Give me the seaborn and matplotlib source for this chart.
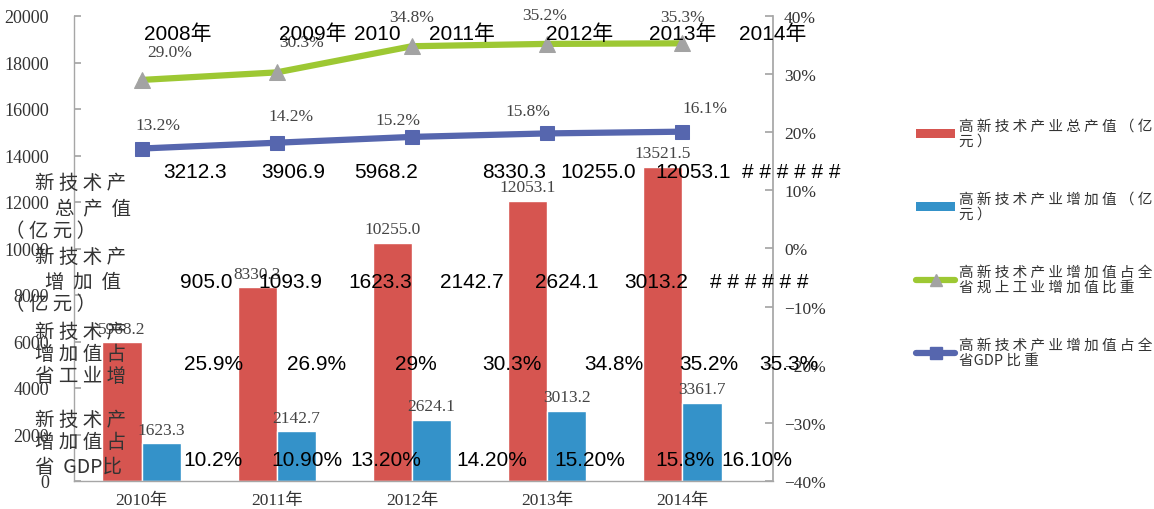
import numpy as np
import pandas as pd
import matplotlib
matplotlib.use("Agg")
import matplotlib.pyplot as plt
import seaborn as sns
from matplotlib.patches import Patch
from matplotlib.lines import Line2D

# ---------------- data ----------------
years = ["2010年", "2011年", "2012年", "2013年", "2014年"]
total_output = [5968.2, 8330.3, 10255.0, 12053.1, 13521.5]      # 高新技术产业总产值（亿元）
added_value = [1623.3, 2142.7, 2624.1, 3013.2, 3361.7]          # 高新技术产业增加值（亿元）
share_industry = [29.0, 30.3, 34.8, 35.2, 35.3]                 # 占全省规上工业增加值比重 (%)
share_gdp = [13.2, 14.2, 15.2, 15.8, 16.1]                      # 占全省GDP比重 (%)

series_names = ["高新技术产业总产值（亿元）", "高新技术产业增加值（亿元）",
                "高新技术产业增加值占全省规上工业增加值比重", "高新技术产业增加值占全省GDP比重"]
legend_labels = ["高 新 技 术 产 业 总 产 值 （ 亿\n元 ）",
                 "高 新 技 术 产 业 增 加 值 （ 亿\n元 ）",
                 "高 新 技 术 产 业 增 加 值 占 全\n省 规 上 工 业 增 加 值 比 重",
                 "高 新 技 术 产 业 增 加 值 占 全\n省GDP 比 重"]

left_ticks = [0, 2000, 4000, 6000, 8000, 10000, 12000, 14000, 16000, 18000, 20000]
right_ticks = [-40, -30, -20, -10, 0, 10, 20, 30, 40]

# stray data-table text overlaid on the picture
table_years = ["2008年", "2009年", "2010", "2011年", "2012年", "2013年", "2014年"]
table_total = ["3212.3", "3906.9", "5968.2", "8330.3", "10255.0", "12053.1", "# # # # # #"]
table_added = ["905.0", "1093.9", "1623.3", "2142.7", "2624.1", "3013.2", "# # # # # #"]
table_share_ind = ["25.9%", "26.9%", "29%", "30.3%", "34.8%", "35.2%", "35.3%"]
table_share_gdp = ["10.2%", "10.90%", "13.20%", "14.20%", "15.20%", "15.8%", "16.10%"]
table_headers = [["新 技 术 产", "总  产  值", "（ 亿 元 ）"],
                 ["新 技 术 产", "增  加  值", "（ 亿 元 ）"],
                 ["新 技 术 产", "增 加 值 占", "省 工 业 增"],
                 ["新 技 术 产", "增 加 值 占", "省  GDP比"]]

# ---------------- layout / style ----------------
W, H = 1154, 510
RED = "#D65550"
BLUE = "#3492C9"
GREEN = "#9DC833"
TRI = "#A3A3A3"
NAVY = "#5666AE"
GRID = "#A6A6A6"
SERIF = ["Liberation Serif", "Noto Sans CJK SC"]
SANS = ["Liberation Sans", "Noto Sans CJK SC"]
CJK = ["Noto Sans CJK SC", "DejaVu Sans"]

sns.set_theme(style="white")
plt.rcParams["font.family"] = SERIF

fig = plt.figure(figsize=(W / 100, H / 100), dpi=100)
ax = fig.add_axes([74 / W, 1 - 482 / H, (773 - 74) / W, (482 - 17) / H])

df = pd.DataFrame({
    "year": years * 2,
    "value": total_output + added_value,
    "series": [series_names[0]] * 5 + [series_names[1]] * 5,
})
sns.barplot(data=df, x="year", y="value", hue="series", palette=[RED, BLUE],
            width=0.58, saturation=1, ax=ax, legend=False)

ax.set_ylim(0, 20000)
ax.set_xlim(-0.5, 4.67)
ax.set_yticks(left_ticks)
ax.set_yticklabels([str(t) for t in left_ticks], fontsize=13, color="#333333")
ax.set_xlabel("")
ax.set_ylabel("")
ax.tick_params(axis="y", direction="in", length=5, color=GRID, pad=18)
ax.tick_params(axis="x", length=0, labelsize=12.5, labelcolor="#333333", pad=8)
ax.set_xticks(np.arange(len(years)) + 0.5, minor=True)
ax.tick_params(axis="x", which="minor", direction="in", length=6, color=GRID)
for s in ["top", "right"]:
    ax.spines[s].set_visible(False)
for s in ["left", "bottom"]:
    ax.spines[s].set_color(GRID)
    ax.spines[s].set_linewidth(1)

# bar value labels
for cont in ax.containers:
    ax.bar_label(cont, fmt="%.1f", padding=4, fontsize=12.5, color="#444444")

# right axis (percentage)
ax2 = ax.twinx()
ax2.set_ylim(-40, 40)
ax2.set_yticks(right_ticks)
ax2.set_yticklabels([f"{t}%" if t >= 0 else f"\u2212{-t}%" for t in right_ticks],
                    fontsize=12.5, color="#333333")
ax2.tick_params(axis="y", direction="in", length=6, color=GRID, pad=8)
for s in ["top", "left", "bottom"]:
    ax2.spines[s].set_visible(False)
ax2.spines["right"].set_color(GRID)

xs = np.arange(len(years))
sns.lineplot(x=xs, y=share_industry, ax=ax2, color=GREEN, linewidth=4.5,
             marker="^", markersize=11, markerfacecolor=TRI, markeredgecolor=TRI)

# the GDP-share line sits on its own (hidden) scale, shifted as in the source image
ax3 = ax.twinx()
ax3.set_ylim(-44, 36)
ax3.axis("off")
sns.lineplot(x=xs, y=share_gdp, ax=ax3, color=NAVY, linewidth=4.5,
             marker="s", markersize=10, markerfacecolor=NAVY, markeredgecolor=NAVY)

ind_offsets = [(20, 20), (18, 22), (0, 21), (-2, 21), (0, 19)]
gdp_offsets = [(12, 17), (10, 19), (-10, 12), (-14, 16), (16, 17)]
for i, v in enumerate(share_industry):
    ax2.annotate(f"{v:.1f}%", (xs[i], v), xytext=ind_offsets[i], textcoords="offset points",
                 ha="center", va="center", fontsize=12.5, color="#444444")
for i, v in enumerate(share_gdp):
    ax3.annotate(f"{v:.1f}%", (xs[i], v), xytext=gdp_offsets[i], textcoords="offset points",
                 ha="center", va="center", fontsize=12.5, color="#444444")

# legend
handles = [Patch(facecolor=RED, edgecolor="none"),
           Patch(facecolor=BLUE, edgecolor="none"),
           Line2D([], [], color=GREEN, lw=4.5, marker="^", markersize=9,
                  markerfacecolor=TRI, markeredgecolor=TRI),
           Line2D([], [], color=NAVY, lw=4.5, marker="s", markersize=8,
                  markerfacecolor=NAVY, markeredgecolor=NAVY)]
leg = fig.legend(handles, legend_labels, loc="upper left", bbox_to_anchor=(910 / W, 1 - 114 / H),
                 frameon=False, prop={"family": CJK, "size": 10.5}, handlelength=2.7,
                 handleheight=0.55, handletextpad=0.25, labelspacing=3.0, borderaxespad=0)
for t in leg.get_texts():
    t.set_linespacing(1.1)
    t.set_color("#333333")

# stray table text overlay
def ftext(px, py, s, **kw):
    fig.text(px / W, 1 - py / H, s, va="center", **kw)

row_x = {
    "years": [178, 313, 377, 462, 580, 683, 773],
    "total": [195, 293, 386, 514, 598, 693, 791],
    "added": [206, 290, 380, 472, 567, 656, 759],
    "ind": [214, 317, 416, 512, 614, 709, 789],
    "gdp": [213, 307, 386, 492, 590, 685, 757],
}
row_y = {"years": 34, "total": 172, "added": 283, "ind": 365, "gdp": 461}
rows = {"years": table_years, "total": table_total, "added": table_added,
        "ind": table_share_ind, "gdp": table_share_gdp}
for key, labels in rows.items():
    for px, s in zip(row_x[key], labels):
        ftext(px, row_y[key], s, ha="center", fontsize=15, family=SANS, color="black")

header_pos = [[(35, 183), (55, 210), (5, 232)],
              [(35, 257), (45, 282), (5, 304)],
              [(35, 332), (35, 355), (35, 377)],
              [(35, 420), (35, 443), (35, 468)]]
for lines, poses in zip(table_headers, header_pos):
    for s, (px, py) in zip(lines, poses):
        ftext(px, py, s, ha="left", fontsize=14, family=CJK, color="#333333")

fig.savefig("out.png", dpi=100)
